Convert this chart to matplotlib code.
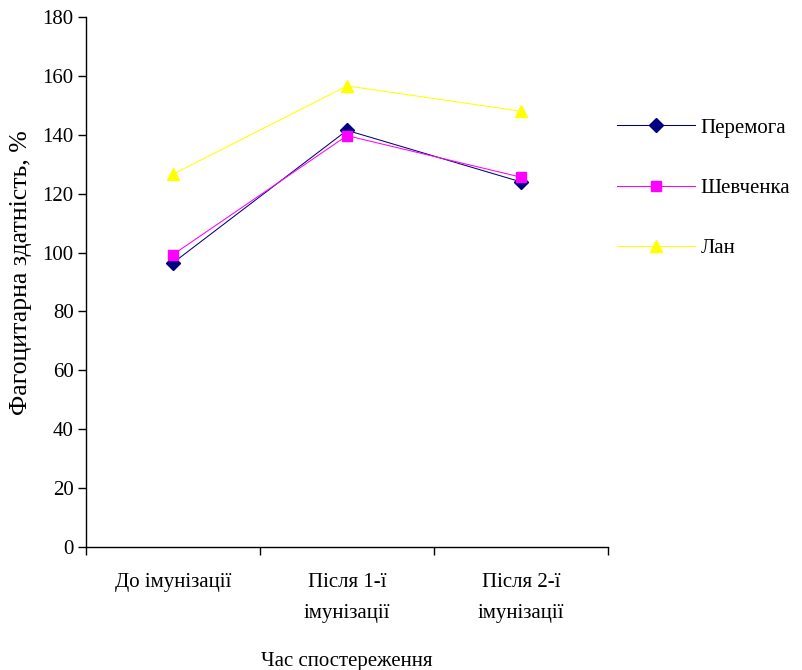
import matplotlib
matplotlib.use("Agg")
import matplotlib.pyplot as plt
import numpy as np

categories = ["До імунізації", "Після 1-ї\nімунізації", "Після 2-ї\nімунізації"]
series_names = ["Перемога", "Шевченка", "Лан"]
peremoha = [96.5, 141.5, 124.0]
shevchenka = [99.3, 139.7, 125.6]
lan = [126.6, 156.6, 148.0]
yticks = [0, 20, 40, 60, 80, 100, 120, 140, 160, 180]

plt.rcParams['font.family'] = ['Liberation Serif', 'DejaVu Serif']

fig = plt.figure(figsize=(8.02, 6.7), dpi=100)
ax = fig.add_axes([86/802, 1-547/670, (608-86)/802, (547-17)/670])

x = np.arange(len(categories)) + 0.5
ax.plot(x, peremoha, color='#000080', lw=0.75, marker='D', ms=7.5, mfc='#000080', mec='#000080', label=series_names[0])
ax.plot(x, shevchenka, color='#FF00FF', lw=0.75, marker='s', ms=7.5, mfc='#FF00FF', mec='#FF00FF', label=series_names[1])
ax.plot(x, lan, color='#FFFF00', lw=0.75, marker='^', ms=9, mfc='#FFFF00', mec='#FFFF00', label=series_names[2])

ax.set_xlim(0, 3)
ax.set_ylim(0, 180)
ax.set_yticks(yticks)
ax.set_xticks([0, 1, 2, 3])
ax.set_xticklabels([])
ax.set_xticks(x, minor=True)
ax.set_xticklabels(categories, minor=True, fontsize=15, linespacing=1.85)
ax.tick_params(axis='x', which='minor', length=0, pad=19)
ax.tick_params(axis='x', which='major', length=6, width=1, direction='out')
ax.tick_params(axis='y', length=6, width=1, direction='out', labelsize=15, pad=3)
for s in ['top', 'right']:
    ax.spines[s].set_visible(False)
for s in ['left', 'bottom']:
    ax.spines[s].set_linewidth(1)

ax.set_ylabel("Фагоцитарна здатність, %", fontsize=18.5)
ax.yaxis.set_label_coords(-0.104, (547-273)/530)
ax.set_xlabel("Час спостереження", fontsize=15, labelpad=21)

leg = ax.legend(loc='upper left', bbox_to_anchor=(617/802, 1-118/670), bbox_transform=fig.transFigure,
                frameon=False, fontsize=15, handlelength=3.75, handletextpad=0.25, labelspacing=1.95,
                borderaxespad=0, borderpad=0)

fig.savefig("out.png", dpi=100)
